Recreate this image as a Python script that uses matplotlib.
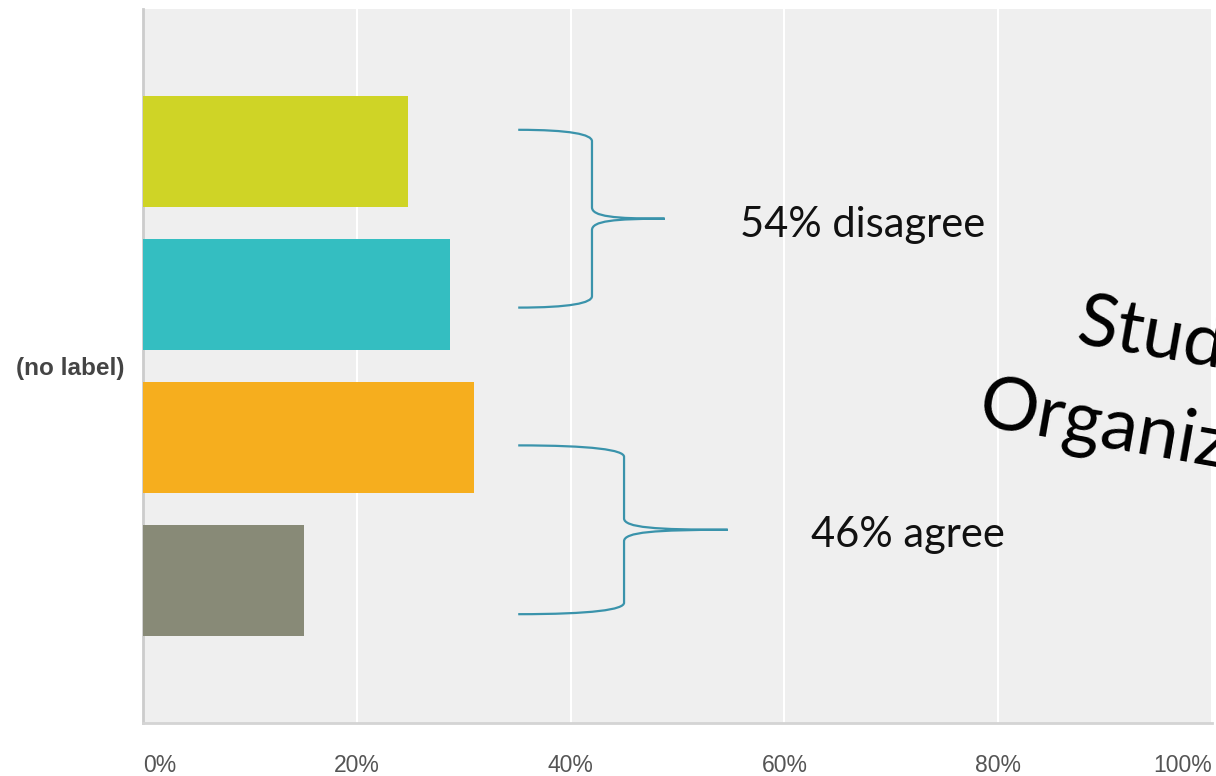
import matplotlib.pyplot as plt
from matplotlib.path import Path
from matplotlib.patches import PathPatch

# Survey responses, one bar per answer (percent of respondents)
answers = ['Strongly disagree', 'Disagree', 'Agree', 'Strongly agree']
percents = [24.8, 28.7, 31.0, 15.1]
bar_colors = ['#cfd426', '#34bec1', '#f6ae1e', '#888a77']
x_ticks = [0, 20, 40, 60, 80, 100]
x_tick_labels = ['0%', '20%', '40%', '60%', '80%', '100%']
group_labels = ['54% disagree', '46% agree']

BG = '#efefef'
BRACE_COLOR = '#3a93ab'


def draw_brace(ax, x_end, x_mid, x_tip, y_top, y_bot):
    """Curly brace opening to the left, pointing right at x_tip."""
    y_c = (y_top + y_bot) / 2
    bend = 0.08
    verts = [
        (x_end, y_top),
        (x_end + (x_mid - x_end) * 0.7, y_top), (x_mid, y_top + bend * 0.4), (x_mid, y_top + bend),
        (x_mid, y_c - bend),
        (x_mid, y_c - bend * 0.2), (x_mid + (x_tip - x_mid) * 0.3, y_c), (x_tip, y_c),
        (x_mid + (x_tip - x_mid) * 0.3, y_c), (x_mid, y_c + bend * 0.2), (x_mid, y_c + bend),
        (x_mid, y_bot - bend),
        (x_mid, y_bot - bend * 0.4), (x_end + (x_mid - x_end) * 0.7, y_bot), (x_end, y_bot),
    ]
    codes = [Path.MOVETO,
             Path.CURVE4, Path.CURVE4, Path.CURVE4,
             Path.LINETO,
             Path.CURVE4, Path.CURVE4, Path.CURVE4,
             Path.CURVE4, Path.CURVE4, Path.CURVE4,
             Path.LINETO,
             Path.CURVE4, Path.CURVE4, Path.CURVE4]
    ax.add_patch(PathPatch(Path(verts, codes), fill=False, edgecolor=BRACE_COLOR,
                           linewidth=1.6, clip_on=False, zorder=4))


fig = plt.figure(figsize=(12.16, 7.76), dpi=100)
ax = fig.add_axes([143 / 1216, 53 / 776, (1212 - 143) / 1216, 714 / 776])
ax.set_facecolor(BG)

positions = list(range(len(percents)))
ax.barh(positions, percents, height=0.78, color=bar_colors, linewidth=0, zorder=3)

ax.set_xlim(0, 100)
ax.set_ylim(4, -1)
ax.set_xticks(x_ticks)
ax.set_xticklabels(x_tick_labels, fontsize=16.5, color='#555555', family='Liberation Sans')
labels = ax.get_xticklabels()
labels[0].set_horizontalalignment('left')
labels[-1].set_horizontalalignment('right')
ax.tick_params(axis='x', length=0, pad=22)
ax.set_yticks([1.5])
ax.set_yticklabels(['(no label)'], fontsize=17.5, fontweight='bold', color='#444444',
                   family='Liberation Sans')
ax.tick_params(axis='y', length=0, pad=13)

ax.xaxis.grid(True, color='white', linewidth=1.5, zorder=0)
ax.set_axisbelow(True)
for side in ['top', 'right']:
    ax.spines[side].set_visible(False)
ax.spines['left'].set_color('#cccccc')
ax.spines['left'].set_linewidth(2)
ax.spines['bottom'].set_color('#d4d4d4')
ax.spines['bottom'].set_linewidth(2)

# Braces grouping disagree / agree answers
draw_brace(ax, 35.1, 42.0, 48.8, -0.154, 1.091)
draw_brace(ax, 35.1, 45.0, 54.7, 2.056, 3.238)

ax.text(55.8, 0.594, group_labels[0], fontsize=30, family='Lato', va='baseline', ha='left',
        color='#111111', zorder=5)
ax.text(62.5, 2.769, group_labels[1], fontsize=30, family='Lato', va='baseline', ha='left',
        color='#111111', zorder=5)

# Rotated title, running off the right edge
fig.text(1075 / 1216, 1 - 343 / 776, 'Students', fontsize=53, family='Lato',
         rotation=-10, rotation_mode='anchor', ha='left', va='baseline', color='black')
fig.text(976 / 1216, 1 - 425 / 776, 'Organizations', fontsize=53, family='Lato',
         rotation=-10, rotation_mode='anchor', ha='left', va='baseline', color='black')

fig.savefig('out.png', dpi=100, facecolor='white')
